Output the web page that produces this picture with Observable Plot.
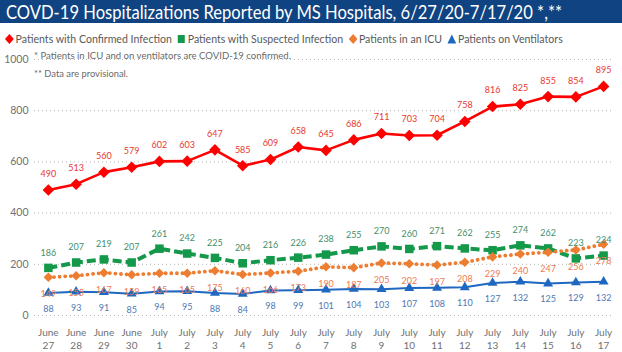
<!DOCTYPE html>
<html><head><meta charset="utf-8">
<script src="https://cdn.jsdelivr.net/npm/d3@7"></script>
<script src="https://cdn.jsdelivr.net/npm/@observablehq/plot@0.6"></script>
<style>
  html,body{margin:0;padding:0;background:#fff;}
  #wrap{position:relative;width:622px;height:352px;overflow:hidden;font-family:Lato,"Noto Sans",sans-serif;}
  #title{position:absolute;left:0;top:0;width:622px;height:23px;background:#0f4381;}
  #title span{position:absolute;left:6px;top:-1px;color:#fff;font-size:20px;line-height:24px;white-space:nowrap;transform-origin:0 0;}
  #legend{position:absolute;left:5px;top:31px;white-space:nowrap;font-size:12px;color:#595959;transform-origin:0 0;display:flex;align-items:center;}
  #legend .it{display:flex;align-items:center;margin-right:6px;}
  #legend svg{margin-right:2px;}
  .note{position:absolute;left:34px;font-size:9.5px;color:#6a6a6a;white-space:nowrap;transform-origin:0 0;}
  #chart{position:absolute;left:0;top:48px;}
</style></head>
<body>
<div id="wrap">
  <div id="title"><span id="ttext"></span></div>
  <div id="legend"></div>
  <div id="chart"></div>
  <div class="note" id="n1" style="top:50px"></div>
  <div class="note" id="n2" style="top:68px"></div>
</div>
<script>
const titleText = "COVD-19 Hospitalizations Reported by MS Hospitals, 6/27/20-7/17/20 *,**";
const notes = ["* Patients in ICU and on ventilators are COVID-19 confirmed.", "** Data are provisional."];
const months = ["June","June","June","June","July","July","July","July","July","July","July","July","July","July","July","July","July","July","July","July","July"];
const days = ["27","28","29","30","1","2","3","4","5","6","7","8","9","10","11","12","13","14","15","16","17"];
const seriesNames = ["Patients with Confirmed Infection","Patients with Suspected Infection","Patients in an ICU","Patients on Ventilators"];
const confirmed = [490,513,560,579,602,603,647,585,609,658,645,686,711,703,704,758,816,825,855,854,895];
const suspected = [186,207,219,207,261,242,225,204,216,226,238,255,270,260,271,262,255,274,262,223,234];
const icu       = [149,155,167,159,165,165,175,160,166,173,190,187,205,202,197,208,229,240,247,256,278];
const vent      = [88,93,91,85,94,95,88,84,98,99,101,104,103,107,108,110,127,132,125,129,132];
const yTicks = [0,200,400,600,800,1000];

const diamond = {draw(ctx, size){ const r = Math.sqrt(size/2); ctx.moveTo(0,-r); ctx.lineTo(r,0); ctx.lineTo(0,r); ctx.lineTo(-r,0); ctx.closePath(); }};

const styles = [
  {vals: confirmed, color:"#ff0000", label:"#e8372f", sw:2.6, dash:null, cap:"butt", sym: diamond, r:4.6, dy:-16},
  {vals: suspected, color:"#14994a", label:"#3f8f6c", sw:4, dash:"9,4", cap:"butt", sym:"square", r:4.8, dy:-15},
  {vals: icu, color:"#ed7d31", label:"#ee7a55", sw:3.8, dash:"0.1,5.5", cap:"round", sym: diamond, r:3.8, dy:17},
  {vals: vent, color:"#1f68c1", label:"#4d78b5", sw:2, dash:null, cap:"butt", sym:"triangle", r:3.7, dy:16}
];

const data = styles.map((s, k) => s.vals.map((v, i) => ({i, v, k})));

const marks = [
  Plot.gridY(yTicks, {stroke:"#b5b5b5", strokeOpacity:1, strokeDasharray:"1,3"}),
  Plot.axisY(yTicks, {tickSize:0, tickPadding:6, fontSize:10.5, label:null, fill:"#707070", tickFormat: d => String(d)}),
  Plot.axisX(d3.range(days.length), {tickSize:0, tickPadding:12, fontSize:10, lineHeight:1.25, label:null, fill:"#707070", tickFormat: i => months[i] + "\n" + days[i]})
];
styles.forEach((s, k) => {
  marks.push(Plot.line(data[k], {x:"i", y:"v", stroke:s.color, strokeWidth:s.sw, strokeDasharray:s.dash, strokeLinecap:s.cap}));
  marks.push(Plot.dot(data[k], {x:"i", y:"v", fill:s.color, stroke:"none", symbol:s.sym, r:s.r}));
});
styles.forEach((s, k) => {
  marks.push(Plot.text(data[k], {x:"i", y:"v", text: d => String(d.v), dy:s.dy, fill:s.label, fontSize:9}));
});

const chart = Plot.plot({
  width:622, height:304,
  marginTop:11, marginBottom:37, marginLeft:34, marginRight:10,
  x:{type:"linear", domain:[-0.5, 20.32], axis:null, label:null},
  y:{domain:[0,1000], axis:null, label:null},
  style:{fontFamily:"Lato, 'Noto Sans', sans-serif", color:"#595959", background:"transparent"},
  marks
});
document.getElementById("chart").appendChild(chart);

// title, legend, notes
const tt = document.getElementById("ttext");
tt.textContent = titleText;
function fit(el, w){ const a = el.getBoundingClientRect().width; el.style.transform = `scaleX(${w/a})`; }
fit(tt, 556);

const legend = document.getElementById("legend");
styles.forEach((s, k) => {
  const it = document.createElement("div"); it.className = "it";
  let shape;
  if (s.sym === diamond) shape = `<polygon points="5,0 10,5 5,10 0,5" fill="${s.color}"/>`;
  else if (s.sym === "square") shape = `<rect x="1" y="1" width="8" height="8" fill="${s.color}"/>`;
  else shape = `<polygon points="5,0.5 10,9.5 0,9.5" fill="${s.color}"/>`;
  it.innerHTML = `<svg width="10" height="10" viewBox="0 0 10 10">${shape}</svg><span>${seriesNames[k]}</span>`;
  legend.appendChild(it);
});
fit(legend, 563);

document.getElementById("n1").textContent = notes[0];
document.getElementById("n2").textContent = notes[1];
fit(document.getElementById("n1"), 257);
fit(document.getElementById("n2"), 94);
</script>
</body></html>
